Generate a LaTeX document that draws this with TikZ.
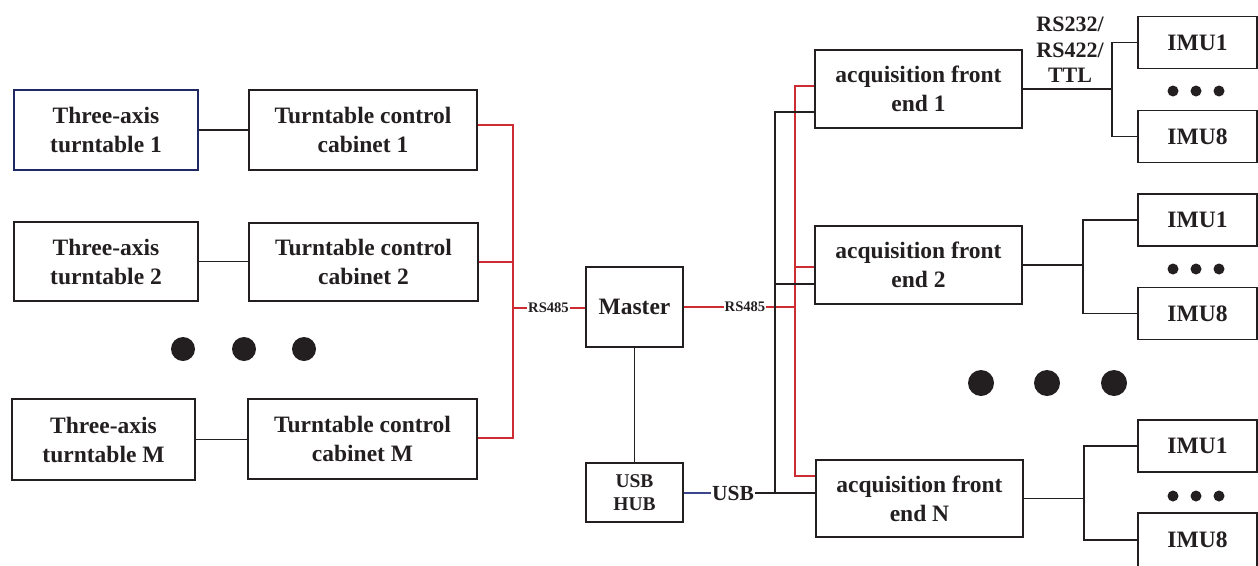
\documentclass[tikz,border=0pt]{standalone}
\usepackage{fontspec}
\setmainfont{Liberation Serif}
\definecolor{linered}{RGB}{205,45,50}
\definecolor{boxblue}{RGB}{30,40,100}
\definecolor{usbblue}{RGB}{60,70,140}
\definecolor{ink}{RGB}{35,31,32}
\newcommand\bigf{\fontsize{23.5}{29}\selectfont}
\tikzset{
  blk/.style={draw=ink, line width=1.8pt, inner sep=0pt, align=center, text=ink, font=\bfseries\bigf},
  wire/.style={draw=ink, line width=1.3pt},
  redwire/.style={draw=linered, line width=1.3pt},
  bluewire/.style={draw=usbblue, line width=1.3pt},
  lbl/.style={inner sep=1pt, text=ink, font=\bfseries\fontsize{14.6}{17}\selectfont},
  dotfill/.style={fill=ink}
}
\begin{document}
\begin{tikzpicture}[x=1pt,y=-1pt]
\useasboundingbox (0,0) rectangle (1258,565);
% left column
\node[blk, draw=boxblue, minimum width=184, minimum height=80] (t1) at (106,130) {Three-axis\\turntable 1};
\node[blk, minimum width=228, minimum height=80] (c1) at (363,130) {Turntable control\\cabinet 1};
\node[blk, minimum width=184, minimum height=79] (t2) at (106,261.5) {Three-axis\\turntable 2};
\node[blk, minimum width=229, minimum height=78] (c2) at (363.5,262) {Turntable control\\cabinet 2};
\node[blk, minimum width=183, minimum height=81] (tM) at (103.5,439.5) {Three-axis\\turntable M};
\node[blk, minimum width=229, minimum height=80] (cM) at (362.5,439) {Turntable control\\cabinet M};
\draw[wire] (t1.east) -- (t1.east -| c1.west);
\draw[wire] (t2.east) -- (t2.east -| c2.west);
\draw[wire] (tM.east) -- (tM.east -| cM.west);
% dots left
\fill[dotfill] (183,349) circle (12);
\fill[dotfill] (244,349) circle (12);
\fill[dotfill] (304,349) circle (12);
% master and hub
\node[blk, minimum width=97, minimum height=80] (master) at (634.5,307) {Master};
\node[blk, minimum width=97, minimum height=59, font=\bfseries\fontsize{19.5}{23}\selectfont] (hub) at (634.5,492.5) {USB\\HUB};
\draw[wire] (master.south) -- (hub.north);
% left red bus
\coordinate (lb1) at (513,125);
\coordinate (lbM) at (513,438);
\coordinate (lbm) at (513,308);
\draw[redwire] (c1.east |- lb1) -- (lb1) -- (lbM) -- (cM.east |- lbM);
\draw[redwire] (c2.east) -- (c2.east -| lb1);
\node[lbl] (rsl) at (548.5,308) {RS485};
\draw[redwire] (lbm) -- (rsl.west);
\draw[redwire] (rsl.east) -- (rsl.east -| master.west);
% acquisition front ends
\node[blk, minimum width=207, minimum height=78] (a1) at (918.5,89) {acquisition front\\end 1};
\node[blk, minimum width=207, minimum height=78] (a2) at (918.5,265) {acquisition front\\end 2};
\node[blk, minimum width=207, minimum height=77] (aN) at (919.5,498.5) {acquisition front\\end N};
% right RS485
\node[lbl] (rsr) at (745,307) {RS485};
\coordinate (rb1) at (795,86);
\coordinate (rb2) at (795,267);
\coordinate (rbN) at (795,476);
\coordinate (rbm) at (795,307);
\draw[redwire] (master.east |- rsr.west) -- (rsr.west);
\draw[redwire] (rsr.east) -- (rbm);
\draw[redwire] (a1.west |- rb1) -- (rb1) -- (rbN) -- (aN.west |- rbN);
\draw[redwire] (rb2) -- (a2.west |- rb2);
% black USB bus
\coordinate (bb1) at (775,112);
\coordinate (bb2) at (775,284);
\coordinate (bbN) at (775,493);
\node[inner sep=1pt, text=ink, font=\bfseries\fontsize{21.5}{24}\selectfont] (usb) at (733,493) {USB};
\draw[bluewire] (hub.east |- usb.west) -- (usb.west);
\draw[wire] (usb.east) -- (bbN);
\draw[wire] (a1.west |- bb1) -- (bb1) -- (bbN) -- (aN.west |- bbN);
\draw[wire] (bb2) -- (a2.west |- bb2);
% interface label
\node[text=ink, align=center, inner sep=0pt, font=\bfseries\fontsize{22}{25.5}\selectfont] (iface) at (1070,50) {RS232/\\RS422/\\TTL};
% IMU boxes
\tikzset{imu/.style={blk, minimum width=119, minimum height=52}}
\node[imu] (i11) at (1197.5,42.5) {IMU1};
\node[imu] (i18) at (1197.5,136.5) {IMU8};
\node[imu] (i21) at (1197.5,220) {IMU1};
\node[imu] (i28) at (1197.5,313.5) {IMU8};
\node[imu] (iN1) at (1197.5,446) {IMU1};
\node[imu, minimum height=54] (iN8) at (1197.5,540) {IMU8};
% forks
\coordinate (f1) at (1112,89);
\coordinate (f2) at (1083,265);
\coordinate (fN) at (1084,498.5);
\draw[wire] (a1.east) -- (f1);
\draw[wire] (i11.west) -| (f1) |- (i18.west);
\draw[wire] (a2.east) -- (f2);
\draw[wire] (i21.west) -| (f2) |- (i28.west);
\draw[wire] (aN.east) -- (fN);
\draw[wire] (iN1.west) -| (fN) |- (iN8.west);
% small dots
\foreach \y in {91,269,496}{
  \fill[dotfill] (1173,\y) circle (5.5);
  \fill[dotfill] (1196,\y) circle (5.5);
  \fill[dotfill] (1219,\y) circle (5.5);
}
% big dots right
\fill[dotfill] (981,383) circle (13);
\fill[dotfill] (1047,383) circle (13);
\fill[dotfill] (1114,383) circle (13);
\end{tikzpicture}
\end{document}
